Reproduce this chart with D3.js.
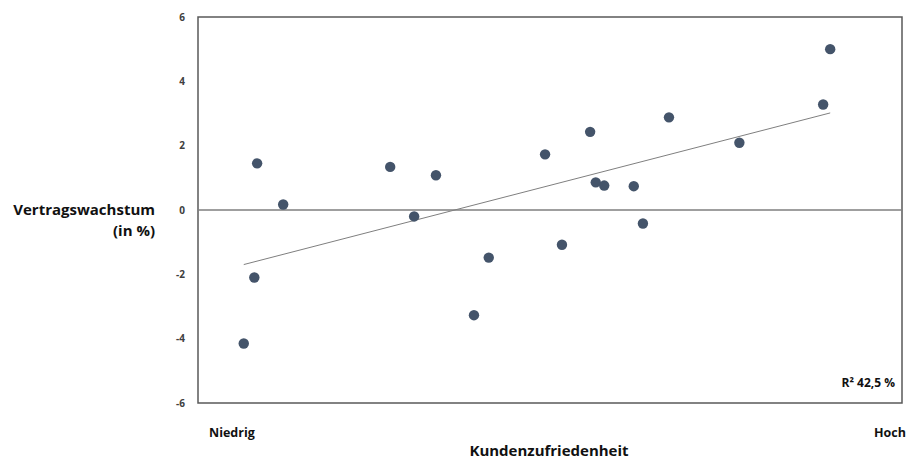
<!DOCTYPE html>
<html><head><meta charset="utf-8">
<script src="https://cdn.jsdelivr.net/npm/d3@7"></script>
<style>body{margin:0;background:#fff;} text{font-family:"Open Sans",sans-serif;font-weight:bold;}</style>
</head><body><svg id="c" width="909" height="462"></svg>
<script>
// Data (x: customer satisfaction, relative 0-100; y: contract growth in %)
const satisfaction = [6.5, 8.0, 8.4, 12.1, 27.3, 30.7, 33.8, 39.2, 41.3, 49.3, 51.7, 55.7, 56.5, 57.7, 61.9, 63.2, 66.9, 76.9, 88.8, 89.8];
const growth = [-4.15, -2.1, 1.45, 0.17, 1.34, -0.2, 1.08, -3.27, -1.48, 1.73, -1.08, 2.43, 0.86, 0.76, 0.74, -0.42, 2.88, 2.09, 3.28, 5.0];
const yTicks = [-6, -4, -2, 0, 2, 4, 6];
const xLabels = ["Niedrig", "Hoch"];
const yTitle = ["Vertragswachstum", "(in %)"];
const xTitle = "Kundenzufriedenheit";
const r2Label = "R² 42,5 %";

const svg = d3.select("#c");
const L = 198, R = 902, T = 17, B = 403;
const x = d3.scaleLinear().domain([0, 100]).range([L, R]);
const y = d3.scaleLinear().domain([-6, 6]).range([B, T]);

// frame
svg.append("rect").attr("x", L).attr("y", T).attr("width", R - L).attr("height", B - T)
  .attr("fill", "none").attr("stroke", "#595959").attr("stroke-width", 1.5);

// y axis labels
const yAxis = d3.axisLeft(y).tickValues(yTicks).tickSize(0).tickPadding(13).tickFormat(d => String(d));
const ga = svg.append("g").attr("transform", `translate(${L},0)`).call(yAxis);
ga.select(".domain").remove();
ga.selectAll("text").attr("font-size", 10).attr("fill", "#404040")
  .style("font-family", "'Open Sans',sans-serif").style("font-weight", "bold");

// zero line
svg.append("line").attr("x1", L).attr("x2", R).attr("y1", y(0)).attr("y2", y(0))
  .attr("stroke", "#7f7f7f").attr("stroke-width", 1.5);

// regression line
const pts = satisfaction.map((v, i) => [v, growth[i]]);
const mx = d3.mean(pts, d => d[0]), my = d3.mean(pts, d => d[1]);
const slope = d3.sum(pts, d => (d[0] - mx) * (d[1] - my)) / d3.sum(pts, d => (d[0] - mx) ** 2);
const icpt = my - slope * mx;
const xmin = d3.min(satisfaction), xmax = d3.max(satisfaction);
svg.append("line").attr("x1", x(xmin)).attr("x2", x(xmax))
  .attr("y1", y(icpt + slope * xmin)).attr("y2", y(icpt + slope * xmax))
  .attr("stroke", "#7f7f7f").attr("stroke-width", 1);

// points
svg.append("g").selectAll("circle").data(pts).join("circle")
  .attr("cx", d => x(d[0])).attr("cy", d => y(d[1])).attr("r", 5.2)
  .attr("fill", "#44546A");

// labels
svg.append("text").attr("x", 209).attr("y", 437).attr("font-size", 12.5).attr("fill", "#111").text(xLabels[0]);
svg.append("text").attr("x", 906).attr("y", 437).attr("text-anchor", "end").attr("font-size", 12.5).attr("fill", "#111").text(xLabels[1]);
svg.append("text").attr("x", 549).attr("y", 456).attr("text-anchor", "middle").attr("font-size", 15).attr("fill", "#111").text(xTitle);
svg.append("text").attr("x", 155).attr("y", 215).attr("text-anchor", "end").attr("font-size", 15).attr("fill", "#111").text(yTitle[0]);
svg.append("text").attr("x", 155).attr("y", 236).attr("text-anchor", "end").attr("font-size", 15).attr("fill", "#111").text(yTitle[1]);
svg.append("text").attr("x", 895).attr("y", 387).attr("text-anchor", "end").attr("font-size", 12).attr("fill", "#111").text(r2Label);
</script></body></html>
